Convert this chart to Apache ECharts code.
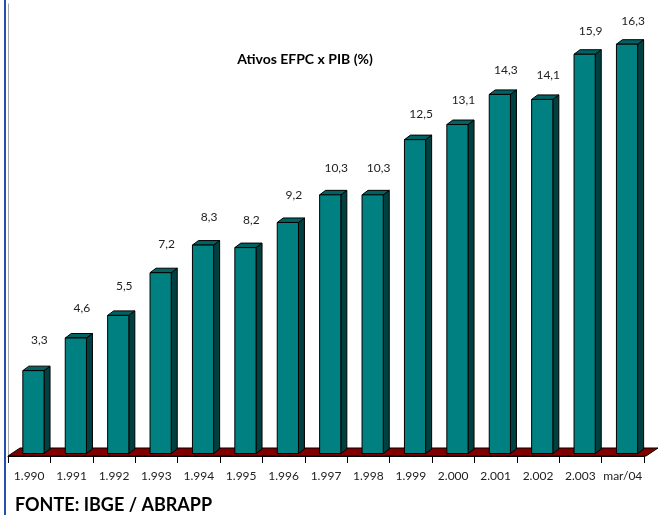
<!DOCTYPE html>
<html>
<head>
<meta charset="utf-8">
<script src="https://cdn.jsdelivr.net/npm/echarts@6/dist/echarts.min.js"></script>
<style>html,body{margin:0;padding:0;background:#fff}#c{width:658px;height:515px}</style>
</head>
<body>
<div id="c"></div>
<script>
var categories = ['1.990','1.991','1.992','1.993','1.994','1.995','1.996','1.997','1.998','1.999','2.000','2.001','2.002','2.003','mar/04'];
var values = [3.3, 4.6, 5.5, 7.2, 8.3, 8.2, 9.2, 10.3, 10.3, 12.5, 13.1, 14.3, 14.1, 15.9, 16.3];
var titleText = 'Ativos EFPC x PIB (%)';
var sourceText = 'FONTE: IBGE / ABRAPP';

var chart = echarts.init(document.getElementById('c'), null, {renderer: 'canvas'});
var N = categories.length;
var FONT = 'Lato, "Open Sans", sans-serif';

function fmt(v){ return v.toFixed(1).replace('.', ','); }

var barData = values.map(function(v, i){ return [i, v]; });

chart.setOption({
  animation: false,
  grid: {left: 8, right: 14, top: 4, bottom: 59, containLabel: false},
  xAxis: {
    type: 'category', data: categories, boundaryGap: true, z: 5,
    axisLine: {lineStyle: {color: '#000', width: 1}},
    axisTick: {show: true, length: 7, alignWithLabel: false, lineStyle: {color: '#000'}},
    axisLabel: {margin: 14, fontFamily: FONT, fontSize: 12, color: '#222', interval: 0}
  },
  yAxis: {
    type: 'value', min: 0, max: 18,
    axisLine: {show: true, lineStyle: {color: '#a8a8a8'}},
    axisTick: {show: false}, axisLabel: {show: false}, splitLine: {show: false}
  },
  graphic: [
    {type: 'rect', left: 4, top: 0, z: 100, shape: {width: 2, height: 515}, style: {fill: '#2350ad'}},
    {type: 'text', x: 305, y: 59, z: 100, style: {text: titleText, fontFamily: FONT, fontWeight: 'bold', fontSize: 14, fill: '#000', align: 'center', verticalAlign: 'middle'}},
    {type: 'text', x: 15, y: 505, z: 100, style: {text: sourceText, fontFamily: FONT, fontWeight: 'bold', fontSize: 18, fill: '#000', align: 'left', verticalAlign: 'middle'}}
  ],
  series: [
    {
      type: 'custom', z: 1, data: [[0, 0]], silent: true,
      renderItem: function(params, api){
        var a = api.coord([0, 0]);
        var b = api.coord([N - 1, 0]);
        var band = api.size([1, 0])[0];
        var l = a[0] - band / 2, r = b[0] + band / 2 + 2, y = a[1];
        return {
          type: 'polygon',
          shape: {points: [[l, y], [l + 12, y - 8], [r + 12, y - 8], [r, y]]},
          style: {fill: '#800000', stroke: '#000', lineWidth: 1}
        };
      }
    },
    {
      type: 'custom', z: 3, data: barData, silent: true,
      renderItem: function(params, api){
        var idx = api.value(0), v = api.value(1);
        var p0 = api.coord([idx, 0]);
        var p1 = api.coord([idx, v]);
        var band = api.size([1, 0])[0];
        var w = band * 0.5, dx = 6, dy = 4.5, offY = 2.5;
        var x = p0[0] - w / 2 + band * 0.1;
        var bottom = p0[1] - offY, top = p1[1] - offY;
        var st = {stroke: '#000', lineWidth: 1};
        return {
          type: 'group',
          children: [
            {type: 'polygon', shape: {points: [[x + w, top], [x + w + dx, top - dy], [x + w + dx, bottom - dy], [x + w, bottom]]}, style: Object.assign({fill: '#004040'}, st)},
            {type: 'polygon', shape: {points: [[x, top], [x + dx, top - dy], [x + w + dx, top - dy], [x + w, top]]}, style: Object.assign({fill: '#006262'}, st)},
            {type: 'rect', shape: {x: x, y: top, width: w, height: bottom - top}, style: Object.assign({fill: '#008080'}, st)},
            {type: 'text', x: x + w / 2 + 6, y: top - (33 - 0.62 * v), style: {text: fmt(v), fontFamily: FONT, fontSize: 12, fill: '#222', align: 'center', verticalAlign: 'middle'}}
          ]
        };
      }
    }
  ]
});
</script>
</body>
</html>
